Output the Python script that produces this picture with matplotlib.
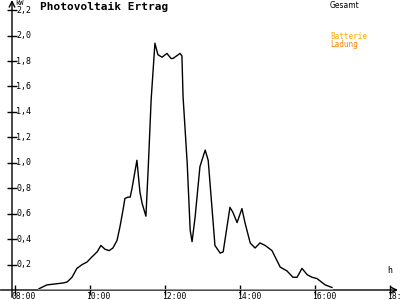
import matplotlib
matplotlib.use('Agg')
import matplotlib.pyplot as plt
from matplotlib.transforms import offset_copy

# time of day in hours, power in kW
times = [8.64, 8.85, 9.28, 9.39, 9.52, 9.65, 9.79, 9.92, 10.05, 10.19, 10.29,
         10.40, 10.51, 10.61, 10.72, 10.80, 10.88, 10.93, 11.01, 11.07, 11.12,
         11.25, 11.33, 11.39, 11.49, 11.55, 11.63, 11.73, 11.81, 11.92, 12.05,
         12.16, 12.21, 12.40, 12.45, 12.48, 12.59, 12.67, 12.72, 12.80, 12.93,
         13.07, 13.15, 13.25, 13.33, 13.47, 13.55, 13.73, 13.81, 13.92, 14.05,
         14.13, 14.27, 14.40, 14.53, 14.67, 14.85, 15.07, 15.25, 15.41, 15.52,
         15.65, 15.79, 15.92, 16.05, 16.27, 16.45]
gesamt = [0.01, 0.04, 0.055, 0.063, 0.10, 0.17, 0.20, 0.22, 0.26, 0.30, 0.35,
          0.32, 0.31, 0.33, 0.39, 0.50, 0.63, 0.72, 0.73, 0.73, 0.80,
          1.02, 0.77, 0.68, 0.58, 0.95, 1.50, 1.94, 1.85, 1.83, 1.86,
          1.82, 1.82, 1.86, 1.84, 1.52, 1.00, 0.47, 0.38, 0.57, 0.97,
          1.10, 1.02, 0.65, 0.35, 0.29, 0.30, 0.65, 0.61, 0.53, 0.64,
          0.53, 0.37, 0.33, 0.37, 0.35, 0.31, 0.18, 0.15, 0.10, 0.10,
          0.17, 0.12, 0.10, 0.09, 0.04, 0.02]
ladung = [0.0] * len(times)

xticks = [8, 10, 12, 14, 16, 18]
xlabels = ['08:00', '10:00', '12:00', '14:00', '16:00', '18:00']
yticks = [0.2, 0.4, 0.6, 0.8, 1.0, 1.2, 1.4, 1.6, 1.8, 2.0, 2.2]

mono = 'DejaVu Sans Mono'

fig = plt.figure(figsize=(4, 3), dpi=100)
ax = fig.add_axes([12 / 400, 10 / 300, 386 / 400, 290 / 300])
ax.set_xlim(7.92, 18.21)
ax.set_ylim(0, 2.28)
for s in ax.spines.values():
    s.set_visible(False)

ax.plot(times, gesamt, color='black', lw=1)
ax.plot(times, ladung, color='#ff8000', lw=1.4, zorder=5)

# axes with arrows
ax.annotate('', xy=(1.0, 0), xytext=(-0.03, 0), xycoords='axes fraction',
            arrowprops=dict(arrowstyle='->', lw=1, color='black', shrinkA=0, shrinkB=0))
ax.annotate('', xy=(0, 1.0), xytext=(0, -0.025), xycoords='axes fraction',
            arrowprops=dict(arrowstyle='->', lw=1, color='black', shrinkA=0, shrinkB=0))

ax.set_xticks(xticks)
ax.set_yticks(yticks)
ax.tick_params(direction='inout', length=7, width=1, labelbottom=False, labelleft=False)

xt = offset_copy(ax.get_xaxis_transform(), fig=fig, x=-2.5, y=-1.5, units='points')
for t, lab in zip(xticks, xlabels):
    ax.text(t, 0, lab, transform=xt, ha='left', va='top', fontsize=5.8, family=mono,
            clip_on=False)
yt = offset_copy(ax.get_yaxis_transform(), fig=fig, x=3, y=0, units='points')
for v in yticks:
    ax.text(0, v, ('%.1f' % v).replace('.', ','), transform=yt, ha='left',
            va='center', fontsize=6, family=mono)

fig.text(15 / 400, 1.0, 'kW', ha='left', va='top', fontsize=5, family=mono)
fig.text(387 / 400, 1 - 275 / 300, 'h', ha='left', va='bottom', fontsize=6, family=mono)
fig.text(40 / 400, 1 - 2 / 300, 'Photovoltaik Ertrag', ha='left', va='top',
         fontsize=8, family=mono, weight='bold')
fig.text(330 / 400, 1 - 1 / 300, 'Gesamt', ha='left', va='top', fontsize=5.5,
         family='DejaVu Sans', color='black')
fig.text(330 / 400, 1 - 32 / 300, 'Batterie', ha='left', va='top', fontsize=5.5,
         family=mono, color='#ffaa00')
fig.text(330 / 400, 1 - 40 / 300, 'Ladung', ha='left', va='top', fontsize=5.5,
         family=mono, color='#ff8000')

fig.savefig('out.png', dpi=100)
